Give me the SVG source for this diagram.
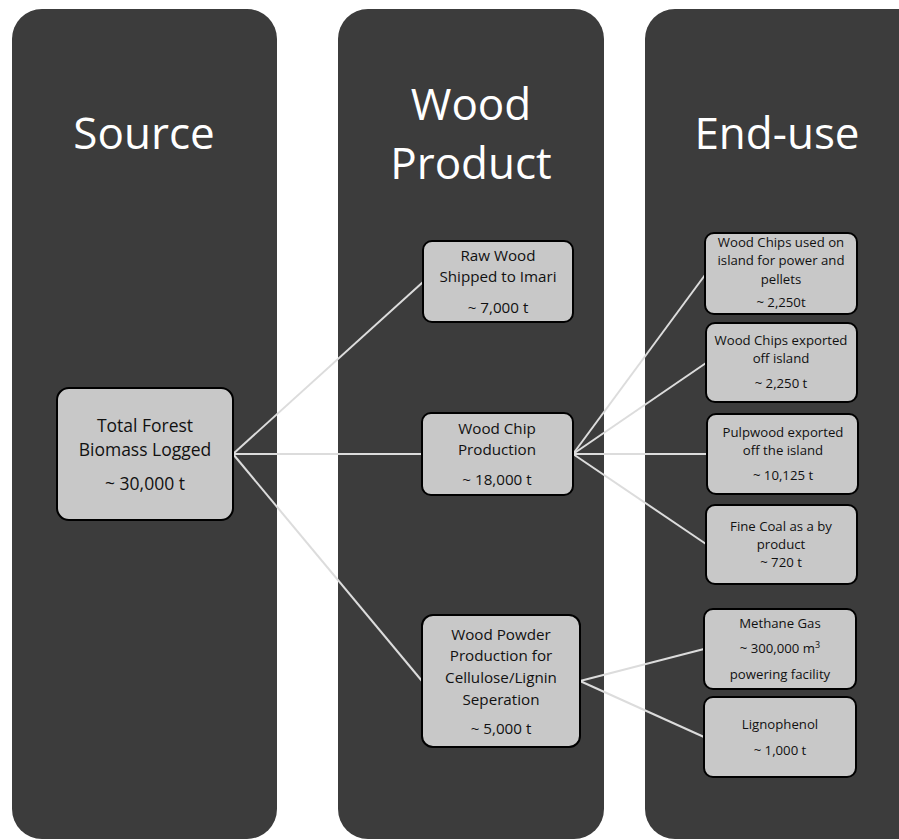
<svg xmlns="http://www.w3.org/2000/svg" width="899" height="840" viewBox="0 0 899 840">
<defs>
<style>
.panel{fill:#3c3c3c}
.title{fill:#ffffff;font-family:"Open Sans","Noto Sans",sans-serif;font-size:44px;text-anchor:middle}
.box{fill:#c8c8c8;stroke:#000;stroke-width:2}
.t{fill:#111111;font-family:"Open Sans","Noto Sans",sans-serif;text-anchor:middle}
.l{font-size:17.5px}
.m{font-size:15.2px}
.s{font-size:13.2px}
.conn line{stroke:#dcdcdc;stroke-width:2}
</style>
</defs>
<rect width="899" height="840" fill="#ffffff"/>
<g id="panels">
<rect class="panel" x="12" y="9" width="265" height="830" rx="30"/>
<rect class="panel" x="338" y="9" width="266" height="830" rx="30"/>
<rect class="panel" x="645" y="9" width="300" height="830" rx="30"/>
</g>
<g id="titles">
<text class="title" x="144" y="149">Source</text>
<text class="title" x="471" y="120">Wood</text>
<text class="title" x="471" y="179">Product</text>
<text class="title" x="777" y="149">End-use</text>
</g>
<g id="connectors" class="conn">
<line x1="233" y1="454" x2="423" y2="282"/>
<line x1="233" y1="454" x2="422" y2="454"/>
<line x1="233" y1="454" x2="422" y2="681"/>
<line x1="573" y1="454" x2="705" y2="275"/>
<line x1="573" y1="454" x2="706" y2="363"/>
<line x1="573" y1="454" x2="707" y2="454"/>
<line x1="573" y1="454" x2="706" y2="544"/>
<line x1="580" y1="681" x2="704" y2="649"/>
<line x1="580" y1="681" x2="704" y2="737"/>
</g>
<g id="total-forest">
<rect class="box" x="57" y="388" width="176" height="132" rx="12"/>
<text class="t l" x="145" y="432">Total Forest</text>
<text class="t l" x="145" y="456">Biomass Logged</text>
<text class="t l" x="145" y="490">~ 30,000 t</text>
</g>
<g id="raw-wood">
<rect class="box" x="423" y="241" width="150" height="81" rx="9"/>
<text class="t m" x="498" y="261">Raw Wood</text>
<text class="t m" x="498" y="282">Shipped to Imari</text>
<text class="t m" x="498" y="313">~ 7,000 t</text>
</g>
<g id="wood-chip">
<rect class="box" x="422" y="413" width="151" height="82" rx="9"/>
<text class="t m" x="497" y="434">Wood Chip</text>
<text class="t m" x="497" y="455">Production</text>
<text class="t m" x="497" y="485">~ 18,000 t</text>
</g>
<g id="wood-powder">
<rect class="box" x="422" y="615" width="158" height="132" rx="11"/>
<text class="t m" x="501" y="640">Wood Powder</text>
<text class="t m" x="501" y="661">Production for</text>
<text class="t m" x="501" y="683">Cellulose/Lignin</text>
<text class="t m" x="501" y="705">Seperation</text>
<text class="t m" x="501" y="734">~ 5,000 t</text>
</g>
<g id="chips-island">
<rect class="box" x="705" y="233" width="152" height="81" rx="9"/>
<text class="t s" x="781" y="247">Wood Chips used on</text>
<text class="t s" x="781" y="265">island for power and</text>
<text class="t s" x="781" y="284">pellets</text>
<text class="t s" x="781" y="307">~ 2,250t</text>
</g>
<g id="chips-exported">
<rect class="box" x="706" y="323" width="151" height="79" rx="9"/>
<text class="t s" x="781" y="345">Wood Chips exported</text>
<text class="t s" x="781" y="363">off island</text>
<text class="t s" x="781" y="388">~ 2,250 t</text>
</g>
<g id="pulpwood">
<rect class="box" x="707" y="414" width="151" height="80" rx="9"/>
<text class="t s" x="783" y="437">Pulpwood exported</text>
<text class="t s" x="783" y="455">off the island</text>
<text class="t s" x="783" y="480">~ 10,125 t</text>
</g>
<g id="fine-coal">
<rect class="box" x="706" y="505" width="151" height="79" rx="9"/>
<text class="t s" x="781" y="531">Fine Coal as a by</text>
<text class="t s" x="781" y="549">product</text>
<text class="t s" x="781" y="567">~ 720 t</text>
</g>
<g id="methane">
<rect class="box" x="704" y="609" width="152" height="80" rx="9"/>
<text class="t s" x="780" y="628">Methane Gas</text>
<text class="t s" x="780" y="653">~ 300,000 m<tspan dy="-5" font-size="9">3</tspan></text>
<text class="t s" x="780" y="679">powering facility</text>
</g>
<g id="lignophenol">
<rect class="box" x="704" y="697" width="152" height="80" rx="9"/>
<text class="t s" x="780" y="729">Lignophenol</text>
<text class="t s" x="780" y="755">~ 1,000 t</text>
</g>
</svg>
